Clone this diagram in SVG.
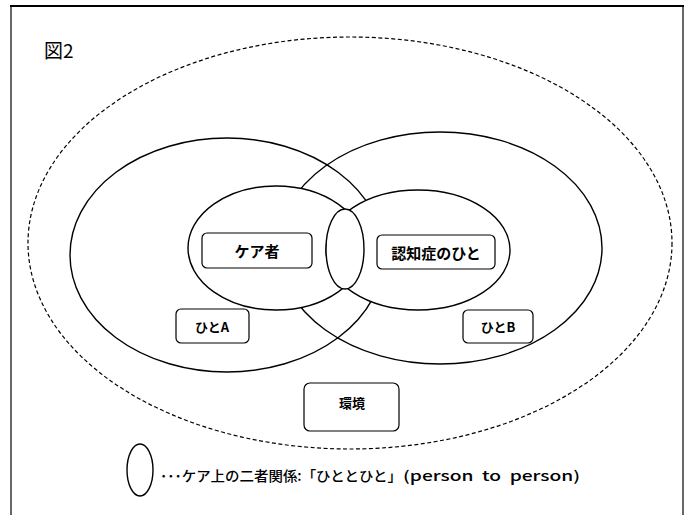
<svg xmlns="http://www.w3.org/2000/svg" width="693" height="515" viewBox="0 0 693 515">
<style>
text{font-family:"Noto Sans CJK JP","Noto Sans",sans-serif;fill:#000;}
.ln{fill:none;stroke:#000;stroke-width:1.4;}
.wf{fill:#fff;stroke:#000;stroke-width:1.4;}
.box{fill:#fff;stroke:#000;stroke-width:1.2;}
.lbl{font-size:15px;font-weight:bold;text-anchor:middle;dominant-baseline:central;}
.sm{font-size:13px;font-weight:bold;text-anchor:middle;dominant-baseline:central;}
</style>
<rect width="693" height="515" fill="#fff"/>
<g id="frame">
<line x1="10" y1="6" x2="684" y2="6" stroke="#000" stroke-width="2"/>
<line x1="11" y1="6" x2="11" y2="515" stroke="#000" stroke-width="1.2"/>
<line x1="683" y1="6" x2="683" y2="515" stroke="#000" stroke-width="1.2"/>
</g>
<text id="title" x="44" y="58" font-size="19">図2</text>
<g id="environment">
<ellipse cx="350" cy="243" rx="322" ry="206" fill="none" stroke="#000" stroke-width="1.2" stroke-dasharray="4 2.5"/>
</g>
<g id="personA"><ellipse class="ln" cx="227" cy="255" rx="157" ry="117"/></g>
<g id="personB"><ellipse class="ln" cx="440" cy="248" rx="162" ry="116"/></g>
<g id="carer"><ellipse class="wf" cx="276" cy="248" rx="88" ry="62"/></g>
<g id="patient"><ellipse class="wf" cx="418" cy="250" rx="92" ry="60"/></g>
<g id="dyad"><ellipse class="wf" cx="345" cy="249" rx="19" ry="40"/></g>
<g id="label-carer">
<rect class="box" x="202" y="233" width="110" height="35" rx="5"/>
<text class="lbl" x="257" y="250">ケア者</text>
</g>
<g id="label-patient">
<rect class="box" x="377" y="235" width="118" height="34" rx="5"/>
<text class="lbl" x="436" y="252">認知症のひと</text>
</g>
<g id="label-A">
<rect class="box" x="176" y="309" width="73" height="34" rx="5"/>
<text class="sm" x="212" y="326">ひとA</text>
</g>
<g id="label-B">
<rect class="box" x="463" y="310" width="70" height="33" rx="5"/>
<text class="sm" x="498" y="326">ひとB</text>
</g>
<g id="label-env">
<rect class="box" x="304" y="383" width="95" height="48" rx="6"/>
<text class="sm" x="352" y="402" font-size="14">環境</text>
</g>
<g id="legend">
<ellipse class="ln" cx="140" cy="470" rx="13" ry="26" stroke-width="1.2"/>
<text x="160" y="481" font-size="14" font-weight="500" textLength="242" lengthAdjust="spacingAndGlyphs">･･･ケア上の二者関係:「ひととひと」</text>
<text x="403" y="481" font-size="14" font-weight="500" xml:space="preserve" style="white-space:pre" textLength="177" lengthAdjust="spacingAndGlyphs">(person  to  person)</text>
</g>
<g id="connectors"/>
</svg>
